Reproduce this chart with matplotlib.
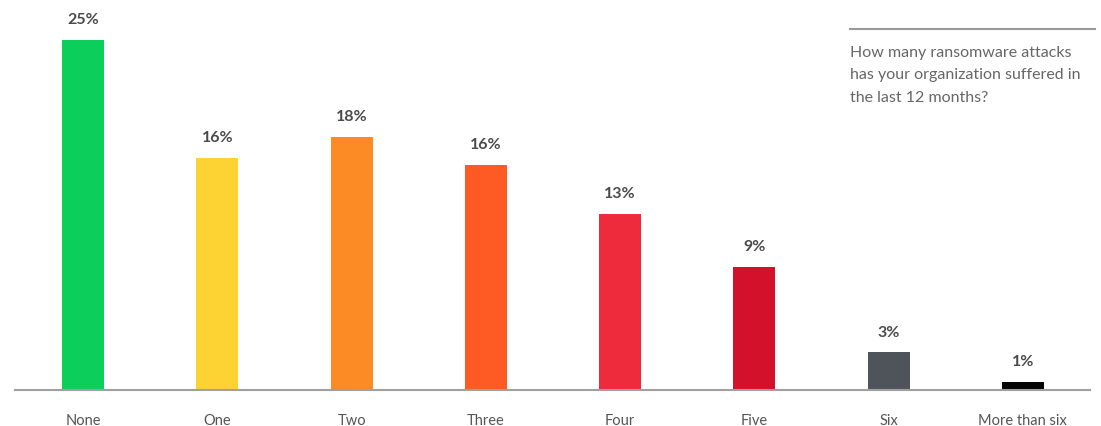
import matplotlib
matplotlib.use("Agg")
import matplotlib.pyplot as plt

categories = ["None", "One", "Two", "Three", "Four", "Five", "Six", "More than six"]
heights = [25.0, 16.6, 18.1, 16.1, 12.6, 8.8, 2.7, 0.6]
labels = ["25%", "16%", "18%", "16%", "13%", "9%", "3%", "1%"]
colors = ["#0ccf5b", "#fdd233", "#fc8a25", "#fd5a24", "#ee2b3d", "#d4112b", "#4e545a", "#050505"]

W, H = 1101, 426
fig = plt.figure(figsize=(W / 100, H / 100), dpi=100)
ax = fig.add_axes([15 / W, (H - 390) / H, (1090 - 15) / W, 350 / H])

x = range(len(categories))
ax.bar(x, heights, width=0.313, color=colors, zorder=2)
ax.set_xlim(-0.507, 7.5)
ax.set_ylim(0, 25)

for xi, h, lab in zip(x, heights, labels):
    ax.annotate(lab, (xi, h), xytext=(0, 9), textcoords="offset points",
                ha="center", va="bottom", fontsize=11.5, fontweight="bold",
                color="#4a4a4a", family="Lato", annotation_clip=False)

for s in ["top", "right", "left"]:
    ax.spines[s].set_visible(False)
ax.spines["bottom"].set_color("#a0a0a0")
ax.spines["bottom"].set_linewidth(1.5)
ax.set_yticks([])
ax.set_xticks(list(x))
ax.set_xticklabels(categories, fontsize=10.5, color="#555555", family="Lato")
ax.tick_params(axis="x", length=0, pad=17)

# annotation box at top right
fig.add_artist(plt.Line2D([850 / W, 1095 / W], [(H - 29) / H, (H - 29) / H],
                          color="#999999", linewidth=1.5))
fig.text(850 / W, (H - 46) / H,
         "How many ransomware attacks\nhas your organization suffered in\nthe last 12 months?",
         ha="left", va="top", fontsize=11.5, color="#666666", family="Lato",
         linespacing=1.75)

fig.savefig("out.png", dpi=100)
